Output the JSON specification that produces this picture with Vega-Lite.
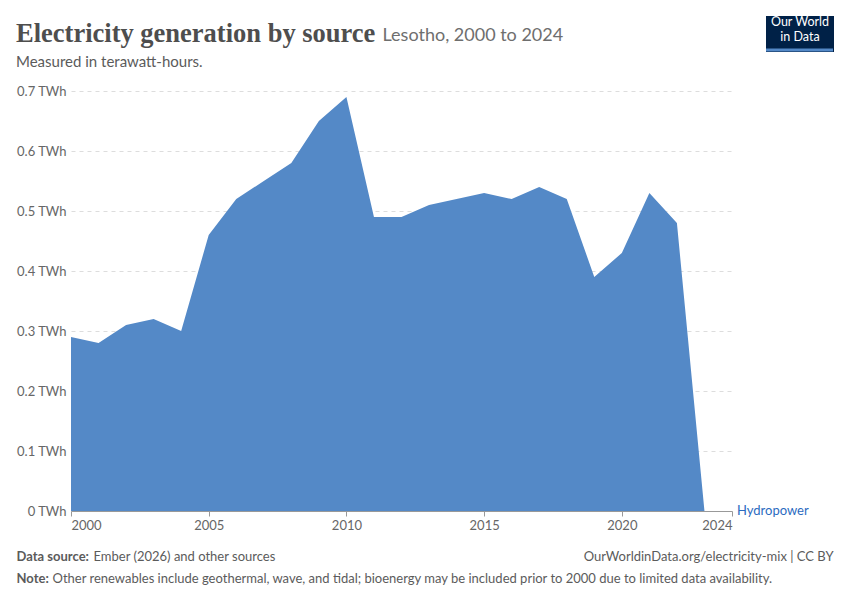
{
  "$schema": "https://vega.github.io/schema/vega-lite/v6.json",
  "width": 661,
  "height": 420,
  "autosize": {"type": "none"},
  "padding": {"left": 71, "top": 91, "right": 118, "bottom": 89},
  "background": "white",
  "title": {
    "text": "Electricity generation by source",
    "subtitle": "Measured in terawatt-hours.",
    "anchor": "start",
    "frame": "group",
    "dx": -55,
    "dy": 72,
    "offset": 18,
    "font": "Liberation Serif",
    "fontSize": 26.5,
    "fontWeight": "bold",
    "color": "#4e4e4e",
    "subtitleFont": "Lato",
    "subtitleFontSize": 15,
    "subtitleColor": "#5b5b5b",
    "subtitlePadding": 8
  },
  "data": {
    "values": [
      {"year": 2000, "value": 0.29},
      {"year": 2001, "value": 0.28},
      {"year": 2002, "value": 0.31},
      {"year": 2003, "value": 0.32},
      {"year": 2004, "value": 0.30},
      {"year": 2005, "value": 0.46},
      {"year": 2006, "value": 0.52},
      {"year": 2007, "value": 0.55},
      {"year": 2008, "value": 0.58},
      {"year": 2009, "value": 0.65},
      {"year": 2010, "value": 0.69},
      {"year": 2011, "value": 0.49},
      {"year": 2012, "value": 0.49},
      {"year": 2013, "value": 0.51},
      {"year": 2014, "value": 0.52},
      {"year": 2015, "value": 0.53},
      {"year": 2016, "value": 0.52},
      {"year": 2017, "value": 0.54},
      {"year": 2018, "value": 0.52},
      {"year": 2019, "value": 0.39},
      {"year": 2020, "value": 0.43},
      {"year": 2021, "value": 0.53},
      {"year": 2022, "value": 0.48},
      {"year": 2023, "value": 0},
      {"year": 2024, "value": 0}
    ]
  },
  "layer": [
    {
      "mark": {"type": "area", "opacity": 1},
      "encoding": {
        "x": {
          "field": "year",
          "type": "quantitative",
          "scale": {"domain": [2000, 2024], "nice": false, "zero": false},
          "axis": {
            "values": [2000, 2005, 2010, 2015, 2020, 2024],
            "format": "d",
            "labelFlush": true,
            "labelFont": "Lato",
            "labelFontSize": 13,
            "labelColor": "#666666",
            "labelPadding": 3,
            "domainColor": "#999999",
            "tickColor": "#999999",
            "tickSize": 5,
            "grid": false,
            "title": ["Data source:", "Note:"],
            "titleFont": "Lato",
            "titleFontSize": 13,
            "titleFontWeight": "bold",
            "titleColor": "#5b5b5b",
            "titleAnchor": "start",
            "titleAlign": "left",
            "titleBaseline": "alphabetic",
            "titleX": -55,
            "titleY": 49,
            "titleLineHeight": 22
          }
        },
        "y": {
          "field": "value",
          "type": "quantitative",
          "scale": {"domain": [0, 0.7], "nice": false},
          "axis": {
            "values": [0, 0.1, 0.2, 0.3, 0.4, 0.5, 0.6, 0.7],
            "labelExpr": "format(datum.value, '.1~f') + ' TWh'",
            "domain": false,
            "ticks": false,
            "labelFont": "Lato",
            "labelFontSize": 13,
            "labelColor": "#666666",
            "labelPadding": 5,
            "gridColor": "#dddddd",
            "gridDash": [4, 4],
            "title": "Lesotho, 2000 to 2024",
            "titleAngle": 0,
            "titleAlign": "left",
            "titleBaseline": "alphabetic",
            "titleX": 311,
            "titleY": -51,
            "titleFont": "Lato",
            "titleFontSize": 18,
            "titleFontWeight": "normal",
            "titleColor": "#6e6e6e"
          }
        },
        "color": {
          "datum": "Hydropower",
          "type": "nominal",
          "scale": {"range": ["#5489c7"]},
          "legend": {
            "orient": "none",
            "legendX": 695,
            "legendY": -75,
            "fillColor": "#002147",
            "padding": 0,
            "title": ["Our World", "in Data"],
            "titleFont": "Lato",
            "titleFontSize": 12.5,
            "titleFontWeight": "normal",
            "titleColor": "white",
            "titleAnchor": "middle",
            "titleAlign": "center",
            "titleLineHeight": 15,
            "titlePadding": 5,
            "labelExpr": "''",
            "labelOffset": 0,
            "labelFontSize": 1,
            "symbolType": "M-1,-1H43.67V1H-1Z",
            "symbolSize": 9,
            "symbolStrokeWidth": 0,
            "encode": {
              "symbols": {"update": {"fill": {"value": "#ce261e"}, "opacity": {"value": 1}, "strokeWidth": {"value": 0}}}
            }
          }
        }
      }
    },
    {
      "transform": [{"filter": "datum.year == 2024"}],
      "mark": {"type": "text", "align": "left", "baseline": "middle", "dx": 5, "font": "Lato", "fontSize": 13, "color": "#2c6bbf"},
      "encoding": {
        "x": {
          "field": "year",
          "type": "quantitative",
          "axis": {
            "orient": "bottom",
            "labels": false,
            "ticks": false,
            "domain": false,
            "grid": false,
            "title": "OurWorldinData.org/electricity-mix | CC BY",
            "titleFont": "Lato",
            "titleFontSize": 13,
            "titleFontWeight": "normal",
            "titleColor": "#5b5b5b",
            "titleAnchor": "end",
            "titleAlign": "right",
            "titleBaseline": "alphabetic",
            "titleX": 762,
            "titleY": 49
          }
        },
        "y": {
          "field": "value",
          "type": "quantitative",
          "axis": {
            "orient": "left",
            "labels": false,
            "ticks": false,
            "domain": false,
            "grid": false,
            "title": "Ember (2026) and other sources",
            "titleAngle": 0,
            "titleAlign": "left",
            "titleBaseline": "alphabetic",
            "titleX": 22,
            "titleY": 469,
            "titleFont": "Lato",
            "titleFontSize": 13,
            "titleFontWeight": "normal",
            "titleColor": "#5b5b5b"
          }
        },
        "text": {"value": "Hydropower"}
      }
    },
    {
      "transform": [{"filter": "datum.year == 2024"}],
      "mark": {"type": "text", "font": "Lato", "fontSize": 13},
      "encoding": {
        "x": {
          "field": "year",
          "type": "quantitative",
          "axis": {
            "orient": "bottom",
            "labels": false,
            "ticks": false,
            "domain": false,
            "grid": false,
            "title": "Other renewables include geothermal, wave, and tidal; bioenergy may be included prior to 2000 due to limited data availability.",
            "titleFont": "Lato",
            "titleFontSize": 13,
            "titleFontWeight": "normal",
            "titleColor": "#5b5b5b",
            "titleAnchor": "start",
            "titleAlign": "left",
            "titleBaseline": "alphabetic",
            "titleX": -19,
            "titleY": 71
          }
        },
        "y": {"field": "value", "type": "quantitative", "axis": null},
        "text": {"value": ""}
      }
    }
  ],
  "resolve": {"axis": {"x": "independent", "y": "independent"}},
  "config": {"view": {"stroke": null}}
}
